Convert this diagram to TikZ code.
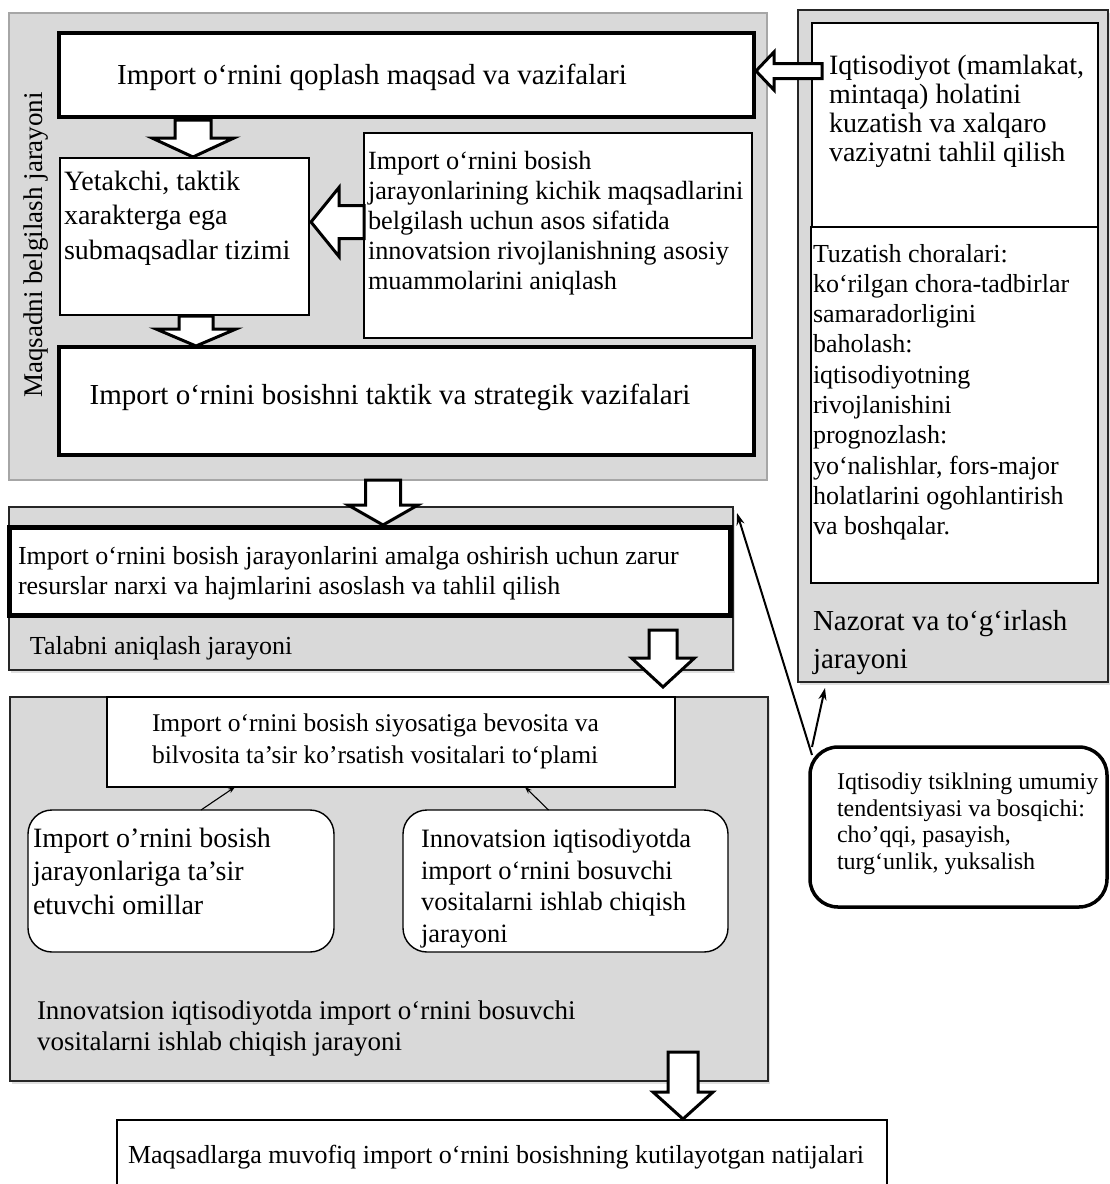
\documentclass[tikz,border=0pt]{standalone}
\usepackage{fontspec}
\setmainfont{Liberation Serif}
\usetikzlibrary{arrows.meta,shadows}

\newcommand{\setsz}[2]{\fontsize{#1pt}{#2pt}\selectfont}
% hollow block arrows: centre x, top, tip, body half, head half, head length
\newcommand{\downblock}[6]{%
  \draw[blockarrow] (#1-#4,#2) -- (#1-#4,#3-#6) -- (#1-#5,#3-#6) -- (#1,#3)
    -- (#1+#5,#3-#6) -- (#1+#4,#3-#6) -- (#1+#4,#2) -- cycle;}
% tip x, centre y, tail x, body half, head half, head length
\newcommand{\leftblock}[6]{%
  \draw[blockarrow] (#1,#2) -- (#1+#6,#2-#5) -- (#1+#6,#2-#4) -- (#3,#2-#4)
    -- (#3,#2+#4) -- (#1+#6,#2+#4) -- (#1+#6,#2+#5) -- cycle;}

\begin{document}
\begin{tikzpicture}[x=1pt,y=-1pt,
  every node/.style={inner sep=0pt,outer sep=0pt},
  panel/.style={draw=black!35,line width=1.5pt,fill=black!15,anchor=north west},
  darkpanel/.style={panel,draw=black!85,line width=1.3pt,
    drop shadow={shadow xshift=2pt,shadow yshift=-3pt,opacity=0.25}},
  thickbox/.style={draw,line width=4.8pt,fill=white,anchor=north west},
  thinbox/.style={draw,line width=1.4pt,fill=white,anchor=north west},
  softbox/.style={thinbox,rounded corners=24pt},
  bubble/.style={draw,line width=3.5pt,fill=white,rounded corners=28pt,anchor=north west},
  blockarrow/.style={draw,line width=3pt,fill=white,line join=miter},
  txt/.style={anchor=north west,align=left},
  link/.style={line width=2pt,-{Stealth[length=12pt,width=8pt]}},
  thinlink/.style={line width=1.1pt,-{Stealth[length=7pt,width=5pt]}},
]
\useasboundingbox (0,0) rectangle (1109,1184);

% panels
\node[panel,minimum width=758pt,minimum height=467pt] (maqsad) at (9,13) {};
\node[darkpanel,minimum width=310pt,minimum height=672pt] (nazorat) at (798,10) {};
\node[darkpanel,minimum width=724pt,minimum height=163pt] (talab) at (9,507) {};
\node[darkpanel,minimum width=758pt,minimum height=384pt] (innov) at (10,697) {};

% boxes of the first panel
\node[thickbox,minimum width=695pt,minimum height=84pt] (goal) at (59,33) {};
\node[thinbox,minimum width=249pt,minimum height=157pt] (sub) at (60,158) {};
\node[thinbox,minimum width=388pt,minimum height=205pt] (problems) at (364,133) {};
\node[thickbox,minimum width=695pt,minimum height=108pt] (tasks) at (59,347) {};

% boxes of the control panel
\node[thinbox,minimum width=286pt,minimum height=204pt] (monitor) at (812,23) {};
\node[thinbox,minimum width=287pt,minimum height=356pt] (correct) at (811,227) {};

% other boxes
\downblock{383}{480}{525}{17.5}{35}{20}
\node[thickbox,line width=5pt,minimum width=721pt,minimum height=88pt] (resources) at (9,527) {};
\node[thinbox,minimum width=568pt,minimum height=90pt] (tools) at (107,697) {};
\node[softbox,minimum width=306pt,minimum height=142pt] (factors) at (28,810) {};
\node[softbox,minimum width=325pt,minimum height=142pt] (means) at (403,810) {};
\node[bubble,minimum width=297pt,minimum height=160pt] (cycle) at (810,747) {};
\node[thinbox,minimum width=770pt,minimum height=90pt] (result) at (117,1120) {};

% block arrows
\downblock{193}{120}{157}{18}{41}{19}
\downblock{196}{316}{346}{17}{40}{17}
\leftblock{311}{222}{364}{16.5}{34.5}{28}
\leftblock{756}{71}{822}{7.5}{19}{18}
\downblock{663}{630}{687}{14}{31.5}{29}
\downblock{683}{1052}{1119}{15}{30}{27}

% texts
\node[rotate=90,font=\setsz{27}{32}] (maqsadlbl) at (36,245) {Maqsadni belgilash jarayoni};
\node[font=\setsz{29}{34}] (goaltxt) at (372,77) {Import o‘rnini qoplash maqsad va vazifalari};
\node[txt,font=\setsz{28}{34.5}] (subtxt) at (64,171) {Yetakchi, taktik\\xarakterga ega\\submaqsadlar tizimi};
\node[txt,font=\setsz{26.3}{30}] (problemstxt) at (368,151) {Import o‘rnini bosish\\jarayonlarining kichik maqsadlarini\\belgilash uchun asos sifatida\\innovatsion rivojlanishning asosiy\\muammolarini aniqlash};
\node[font=\setsz{29}{34}] (taskstxt) at (390,397) {Import o‘rnini bosishni taktik va strategik vazifalari};

\node[txt,font=\setsz{28}{29}] (monitortxt) at (829,55) {Iqtisodiyot (mamlakat,\\mintaqa) holatini\\kuzatish va xalqaro\\vaziyatni tahlil qilish};
\node[txt,font=\setsz{26}{30.3}] (correcttxt) at (813,244) {Tuzatish choralari:\\ko‘rilgan chora-tadbirlar\\samaradorligini\\baholash:\\iqtisodiyotning\\rivojlanishini\\prognozlash:\\yo‘nalishlar, fors-major\\holatlarini ogohlantirish\\va boshqalar.};
\node[txt,font=\setsz{29}{38}] (nazoratlbl) at (813,610) {Nazorat va to‘g‘irlash\\jarayoni};

\node[txt,font=\setsz{26}{30}] (resourcestxt) at (18,546) {Import o‘rnini bosish jarayonlarini amalga oshirish uchun zarur\\resurslar narxi va hajmlarini asoslash va tahlil qilish};
\node[anchor=west,font=\setsz{26}{30}] (talablbl) at (30,648) {Talabni aniqlash jarayoni};

\node[txt,font=\setsz{25.5}{32}] (toolstxt) at (152,714) {Import o‘rnini bosish siyosatiga bevosita va\\bilvosita ta'sir ko'rsatish vositalari to‘plami};
\node[txt,font=\setsz{28}{33.5}] (factorstxt) at (33,828) {Import o'rnini bosish\\jarayonlariga ta'sir\\etuvchi omillar};
\node[txt,font=\setsz{26.5}{31.7}] (meanstxt) at (421,829) {Innovatsion iqtisodiyotda\\import o‘rnini bosuvchi\\vositalarni ishlab chiqish\\jarayoni};
\node[txt,font=\setsz{27}{31}] (innovlbl) at (37,1001) {Innovatsion iqtisodiyotda import o‘rnini bosuvchi\\vositalarni ishlab chiqish jarayoni};
\node[txt,font=\setsz{24}{26.5}] (cycletxt) at (837,773) {Iqtisodiy tsiklning umumiy\\tendentsiyasi va bosqichi:\\cho'qqi, pasayish,\\turg‘unlik, yuksalish};
\node[anchor=west,font=\setsz{26}{30}] (resulttxt) at (128,1157) {Maqsadlarga muvofiq import o‘rnini bosishning kutilayotgan natijalari};

% connectors
\draw[link] ([xshift=2pt,yshift=-8pt]cycle.north west) -- ([xshift=4pt,yshift=-6pt]talab.north east);
\draw[link] ([xshift=2pt]cycle.north west) -- ([xshift=27pt,yshift=-6pt]nazorat.south west);
\draw[thinlink] ([xshift=20pt]factors.north) -- ([xshift=-156pt]tools.south);
\draw[thinlink] ([xshift=-17pt]means.north) -- ([xshift=134pt]tools.south);
\end{tikzpicture}
\end{document}
